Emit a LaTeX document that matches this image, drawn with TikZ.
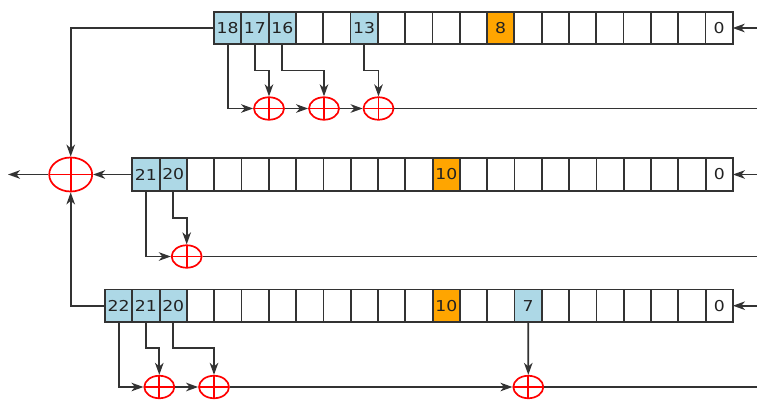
\documentclass[tikz,border=0pt]{standalone}
\usepackage{fontspec}
\setmainfont{DejaVu Sans}
\usetikzlibrary{arrows.meta,shapes.geometric,calc}
\definecolor{cellblue}{HTML}{ADD8E6}
\definecolor{clockor}{HTML}{FFA500}
\definecolor{linegray}{HTML}{333333}
\definecolor{txt}{HTML}{222222}
\newcommand\celltxt[1]{\scalebox{1.15}[1]{#1}}
\begin{document}
\begin{tikzpicture}[x=1pt,y=-1pt,
  cell/.style={draw=linegray,line width=1.8pt,fill=white,minimum width=27.3pt,minimum height=32.5pt,inner sep=0pt,outer sep=0pt},
  tapcell/.style={cell,fill=cellblue},
  clkcell/.style={cell,fill=clockor},
  lbl/.style={font=\fontsize{15}{17}\selectfont,text=txt,inner sep=0pt},
  xorsmall/.style={draw=red,line width=1.7pt,ellipse,minimum width=30pt,minimum height=22.5pt,inner sep=0pt,
    path picture={\draw[red,line width=1.7pt] (path picture bounding box.north) -- (path picture bounding box.south) (path picture bounding box.west) -- (path picture bounding box.east);}},
  xorbig/.style={xorsmall,minimum width=43pt,minimum height=34pt},
  conn/.style={draw=linegray,line width=1.8pt},
  arr/.style={conn,-{Stealth[length=12pt,width=8.5pt,inset=3.5pt]}}]
\useasboundingbox (0,0) rectangle (757,399);
% register 1: 19 cells
\foreach \k in {0,...,18}{
  \pgfmathsetmacro\cx{214+(18-\k+0.5)*27.3}
  \ifnum\k=18 \def\st{tapcell}\else\ifnum\k=17 \def\st{tapcell}\else\ifnum\k=16 \def\st{tapcell}\else\ifnum\k=13 \def\st{tapcell}\else\ifnum\k=8 \def\st{clkcell}\else\def\st{cell}\fi\fi\fi\fi\fi
  \node[\st] (r1c\k) at (\cx,28) {};
}
\node[lbl] at (r1c18) {\celltxt{18}};
\node[lbl] at (r1c17) {\celltxt{17}};
\node[lbl] at (r1c16) {\celltxt{16}};
\node[lbl] at (r1c13) {\celltxt{13}};
\node[lbl] at (r1c8) {\celltxt{8}};
\node[lbl] at (r1c0) {\celltxt{0}};
% register 2: 22 cells
\foreach \k in {0,...,21}{
  \pgfmathsetmacro\cx{132.3+(21-\k+0.5)*27.3}
  \ifnum\k=21 \def\st{tapcell}\else\ifnum\k=20 \def\st{tapcell}\else\ifnum\k=10 \def\st{clkcell}\else\def\st{cell}\fi\fi\fi
  \node[\st] (r2c\k) at (\cx,174.5) {};
}
\node[lbl] at (r2c21) {\celltxt{21}};
\node[lbl] at (r2c20) {\celltxt{20}};
\node[lbl] at (r2c10) {\celltxt{10}};
\node[lbl] at (r2c0) {\celltxt{0}};
% register 3: 23 cells
\foreach \k in {0,...,22}{
  \pgfmathsetmacro\cx{105+(22-\k+0.5)*27.3}
  \ifnum\k=22 \def\st{tapcell}\else\ifnum\k=21 \def\st{tapcell}\else\ifnum\k=20 \def\st{tapcell}\else\ifnum\k=7 \def\st{tapcell}\else\ifnum\k=10 \def\st{clkcell}\else\def\st{cell}\fi\fi\fi\fi\fi
  \node[\st] (r3c\k) at (\cx,305.7) {};
}
\node[lbl] at (r3c22) {\celltxt{22}};
\node[lbl] at (r3c21) {\celltxt{21}};
\node[lbl] at (r3c20) {\celltxt{20}};
\node[lbl] at (r3c10) {\celltxt{10}};
\node[lbl] at (r3c7) {\celltxt{7}};
\node[lbl] at (r3c0) {\celltxt{0}};
% xor nodes
\node[xorsmall] (x11) at (269,108.5) {};
\node[xorsmall] (x12) at (324,108.5) {};
\node[xorsmall] (x13) at (378.5,108.5) {};
\node[xorsmall] (x21) at (186.7,256.5) {};
\node[xorsmall] (x31) at (159.3,387) {};
\node[xorsmall] (x32) at (214,387) {};
\node[xorsmall] (x33) at (528.3,387) {};
\node[xorbig] (bx) at (70.7,174.5) {};
% free ends
\coordinate (i1) at (757,28);
\coordinate (i2) at (757,174.5);
\coordinate (i3) at (757,305.7);
\coordinate (o1) at (757,108.5);
\coordinate (o2) at (757,256.5);
\coordinate (o3) at (757,387);
\coordinate (out) at (8,174.5);
% register 1 connectors
\draw[arr] (i1) -- (r1c0.east);
\draw[arr] (r1c18.south) |- (x11.west);
\draw[arr] (r1c17.south) |- (x11 |- 0,70.5) -- (x11.north);
\draw[arr] (r1c16.south) |- (x12 |- 0,70.5) -- (x12.north);
\draw[arr] (r1c13.south) |- (x13 |- 0,70.5) -- (x13.north);
\draw[arr] (x11) -- (x12);
\draw[arr] (x12) -- (x13);
\draw[conn] (x13.east) -- (o1);
\draw[arr] (r1c18.west) -| (bx.north);
% register 2 connectors
\draw[arr] (i2) -- (r2c0.east);
\draw[arr] (r2c21.west) -- (bx.east);
\draw[arr] (bx.west) -- (out);
\draw[arr] (r2c21.south) |- (x21.west);
\draw[arr] (r2c20.south) |- (x21 |- 0,218) -- (x21.north);
\draw[conn] (x21.east) -- (o2);
% register 3 connectors
\draw[arr] (i3) -- (r3c0.east);
\draw[arr] (r3c22.west) -| (bx.south);
\draw[arr] (r3c22.south) |- (x31.west);
\draw[arr] (r3c21.south) |- (x31 |- 0,348) -- (x31.north);
\draw[arr] (r3c20.south) |- (x32 |- 0,348) -- (x32.north);
\draw[arr] (r3c7.south) -- (x33.north);
\draw[arr] (x31) -- (x32);
\draw[arr] (x32) -- (x33);
\draw[conn] (x33.east) -- (o3);
\end{tikzpicture}
\end{document}
